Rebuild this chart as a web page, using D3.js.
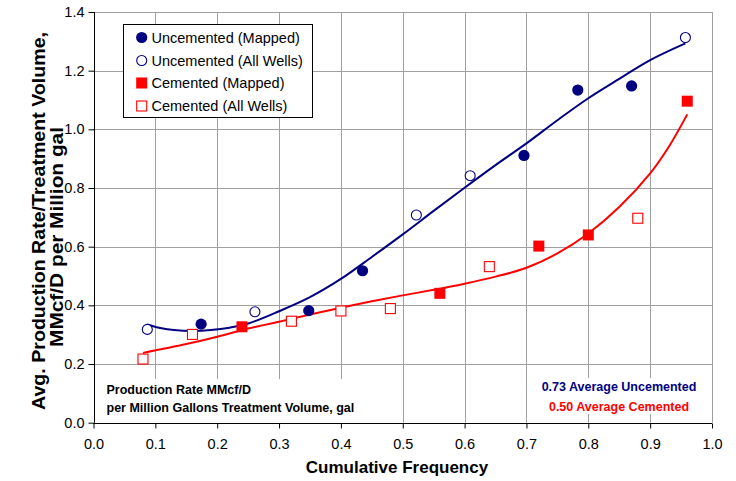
<!doctype html>
<html>
<head>
<meta charset="utf-8">
<script src="https://cdn.jsdelivr.net/npm/d3@7"></script>
<style>
  body { margin: 0; background: #fff; }
  svg text { font-family: "Liberation Sans", Arial, sans-serif; }
</style>
</head>
<body>
<svg id="chart" width="736" height="481"></svg>
<script>
  (function () {

    // cumulative frequency positions and rates
    var uncementedMappedX = [0.174, 0.348, 0.435, 0.696, 0.783, 0.870];
    var uncementedMappedY = [0.336, 0.382, 0.518, 0.911, 1.134, 1.148];
    var uncementedAllX = [0.087, 0.261, 0.522, 0.609, 0.957];
    var uncementedAllY = [0.318, 0.378, 0.708, 0.842, 1.313];
    var cementedMappedX = [0.24, 0.56, 0.72, 0.80, 0.96];
    var cementedMappedY = [0.327, 0.441, 0.602, 0.640, 1.096];
    var cementedAllX = [0.08, 0.16, 0.32, 0.40, 0.48, 0.64, 0.88];
    var cementedAllY = [0.217, 0.301, 0.346, 0.381, 0.389, 0.532, 0.697];

    // trend lines
    var uncementedTrendX = [0.087, 0.11, 0.13, 0.16, 0.19, 0.22, 0.25, 0.30, 0.35, 0.40, 0.45,
      0.50, 0.55, 0.60, 0.65, 0.70, 0.75, 0.80, 0.85, 0.90, 0.957];
    var uncementedTrendY = [0.335, 0.322, 0.316, 0.313, 0.316, 0.324, 0.338, 0.380, 0.428, 0.490, 0.565,
      0.642, 0.722, 0.801, 0.878, 0.952, 1.031, 1.106, 1.172, 1.236, 1.293];
    var cementedTrendX = [0.08, 0.15, 0.20, 0.25, 0.30, 0.35, 0.40, 0.45, 0.50, 0.55, 0.60,
      0.65, 0.70, 0.75, 0.80, 0.85, 0.90, 0.93, 0.96];
    var cementedTrendY = [0.238, 0.268, 0.293, 0.321, 0.344, 0.369, 0.392, 0.414, 0.434, 0.453, 0.474,
      0.498, 0.528, 0.577, 0.645, 0.735, 0.850, 0.940, 1.051];

    var xTicks = [0, 0.1, 0.2, 0.3, 0.4, 0.5, 0.6, 0.7, 0.8, 0.9, 1.0];
    var yTicks = [0, 0.2, 0.4, 0.6, 0.8, 1.0, 1.2, 1.4];

    var legendLabels = ['Uncemented (Mapped)', 'Uncemented (All Wells)', 'Cemented (Mapped)', 'Cemented (All Wells)'];
    var noteLines = ['Production Rate MMcf/D', 'per Million Gallons Treatment Volume, gal'];
    var averageLines = ['0.73 Average Uncemented', '0.50 Average Cemented'];
    var yTitleLines = ['Avg. Production Rate/Treatment Volume,', 'MMcf/D per Million gal'];

    var navy = '#000080', red = '#ff0000', grid = '#a0a0a0';

    var x = d3.scaleLinear().domain([0, 1]).range([93.5, 712]);
    var y = d3.scaleLinear().domain([0, 1.4]).range([422.7, 12]);

    var svg = d3.select('#chart');

    function zip(xs, ys) {
      return xs.map(function (v, i) { return [v, ys[i]]; });
    }

    // grid
    var g = svg.append('g').attr('class', 'grid');
    g.selectAll('line.v').data(xTicks.slice(1)).enter().append('line')
      .attr('x1', function (d) { return Math.round(x(d)) + 0.5; })
      .attr('x2', function (d) { return Math.round(x(d)) + 0.5; })
      .attr('y1', y(1.4)).attr('y2', y(0))
      .attr('stroke', grid).attr('stroke-width', 1);
    g.selectAll('line.h').data(yTicks.slice(1)).enter().append('line')
      .attr('y1', function (d) { return Math.round(y(d)) + 0.5; })
      .attr('y2', function (d) { return Math.round(y(d)) + 0.5; })
      .attr('x1', x(0)).attr('x2', x(1))
      .attr('stroke', grid).attr('stroke-width', 1);

    // white text boxes hide the grid under the notes
    svg.append('rect').attr('x', x(0) + 1).attr('y', 379).attr('width', 282).attr('height', y(0) - 379)
      .attr('fill', '#fff');
    svg.append('rect').attr('x', 537).attr('y', 378).attr('width', 166).attr('height', 36)
      .attr('fill', '#fff');

    // axes
    var xAxis = d3.axisBottom(x).tickValues(xTicks).tickSize(5).tickPadding(10)
      .tickFormat(d3.format('.1f'));
    var yAxis = d3.axisLeft(y).tickValues(yTicks).tickSize(6).tickPadding(4)
      .tickFormat(d3.format('.1f'));

    svg.append('g').attr('transform', 'translate(0,' + (Math.round(y(0)) + 0.5) + ')').call(xAxis)
      .call(function (a) {
        a.select('.domain').attr('d', 'M' + x(0) + ',0H' + x(1));
        a.selectAll('text').attr('font-size', 14.5).attr('fill', '#000')
          .attr('font-family', '"Liberation Sans", Arial, sans-serif');
      });
    svg.append('g').attr('transform', 'translate(' + (Math.round(x(0)) + 0.5) + ',0)').call(yAxis)
      .call(function (a) {
        a.select('.domain').attr('d', 'M0,' + y(0) + 'V' + y(1.4));
        a.selectAll('text').attr('font-size', 14.5).attr('fill', '#000')
          .attr('font-family', '"Liberation Sans", Arial, sans-serif');
      });

    // trend lines
    var line = d3.line()
      .x(function (d) { return x(d[0]); })
      .y(function (d) { return y(d[1]); })
      .curve(d3.curveCatmullRom.alpha(0.5));

    svg.append('path').datum(zip(cementedTrendX, cementedTrendY))
      .attr('d', line).attr('fill', 'none').attr('stroke', red).attr('stroke-width', 2);
    svg.append('path').datum(zip(uncementedTrendX, uncementedTrendY))
      .attr('d', line).attr('fill', 'none').attr('stroke', navy).attr('stroke-width', 2);

    // markers
    var pts = svg.append('g');
    pts.selectAll('circle.um').data(zip(uncementedMappedX, uncementedMappedY)).enter().append('circle')
      .attr('cx', function (d) { return x(d[0]); }).attr('cy', function (d) { return y(d[1]); })
      .attr('r', 5.6).attr('fill', navy);
    pts.selectAll('circle.ua').data(zip(uncementedAllX, uncementedAllY)).enter().append('circle')
      .attr('cx', function (d) { return x(d[0]); }).attr('cy', function (d) { return y(d[1]); })
      .attr('r', 5).attr('fill', '#fff').attr('stroke', navy).attr('stroke-width', 1.1);
    pts.selectAll('rect.cm').data(zip(cementedMappedX, cementedMappedY)).enter().append('rect')
      .attr('x', function (d) { return x(d[0]) - 5.5; }).attr('y', function (d) { return y(d[1]) - 5.5; })
      .attr('width', 11).attr('height', 11).attr('fill', red);
    pts.selectAll('rect.ca').data(zip(cementedAllX, cementedAllY)).enter().append('rect')
      .attr('x', function (d) { return x(d[0]) - 5; }).attr('y', function (d) { return y(d[1]) - 5; })
      .attr('width', 10).attr('height', 10).attr('fill', '#fff')
      .attr('stroke', red).attr('stroke-width', 1.1);

    // legend
    var legend = svg.append('g');
    legend.append('rect').attr('x', 123.5).attr('y', 24.5).attr('width', 189).attr('height', 93)
      .attr('fill', '#fff').attr('stroke', '#000').attr('stroke-width', 1);
    var rowY = [37.5, 60.5, 83, 106];
    legendLabels.forEach(function (label, i) {
      var cy = rowY[i];
      if (i === 0) {
        legend.append('circle').attr('cx', 141.7).attr('cy', cy).attr('r', 5.6).attr('fill', navy);
      } else if (i === 1) {
        legend.append('circle').attr('cx', 141.7).attr('cy', cy).attr('r', 5)
          .attr('fill', '#fff').attr('stroke', navy).attr('stroke-width', 1.1);
      } else if (i === 2) {
        legend.append('rect').attr('x', 136.2).attr('y', cy - 5.5).attr('width', 11).attr('height', 11)
          .attr('fill', red);
      } else {
        legend.append('rect').attr('x', 136.7).attr('y', cy - 5).attr('width', 10).attr('height', 10)
          .attr('fill', '#fff').attr('stroke', red).attr('stroke-width', 1.1);
      }
      legend.append('text').attr('x', 151.5).attr('y', cy + 5.2)
        .attr('font-size', 14.5).text(label);
    });

    // notes inside the plot
    svg.selectAll('text.note').data(noteLines).enter().append('text')
      .attr('x', 106.5).attr('y', function (d, i) { return 394 + i * 17.7; })
      .attr('font-size', 12.5).attr('font-weight', 'bold').text(function (d) { return d; });
    svg.selectAll('text.avg').data(averageLines).enter().append('text')
      .attr('x', 619).attr('y', function (d, i) { return 390.7 + i * 20; })
      .attr('text-anchor', 'middle').attr('font-size', 12.5).attr('font-weight', 'bold')
      .attr('fill', function (d, i) { return i === 0 ? navy : red; })
      .text(function (d) { return d; });

    // axis titles
    svg.append('text').attr('x', 397).attr('y', 473).attr('text-anchor', 'middle')
      .attr('font-size', 17).attr('font-weight', 'bold').text('Cumulative Frequency');
    var titleCenter = [221, 237], titleLength = [378, 220];
    svg.selectAll('text.ytitle').data(yTitleLines).enter().append('text')
      .attr('transform', function (d, i) {
        return 'translate(' + (45 + i * 18) + ',' + titleCenter[i] + ') rotate(-90)';
      })
      .attr('text-anchor', 'middle').attr('font-size', 18).attr('font-weight', 'bold')
      .attr('textLength', function (d, i) { return titleLength[i]; })
      .attr('lengthAdjust', 'spacingAndGlyphs')
      .text(function (d) { return d; });

  })();
</script>
</body>
</html>
